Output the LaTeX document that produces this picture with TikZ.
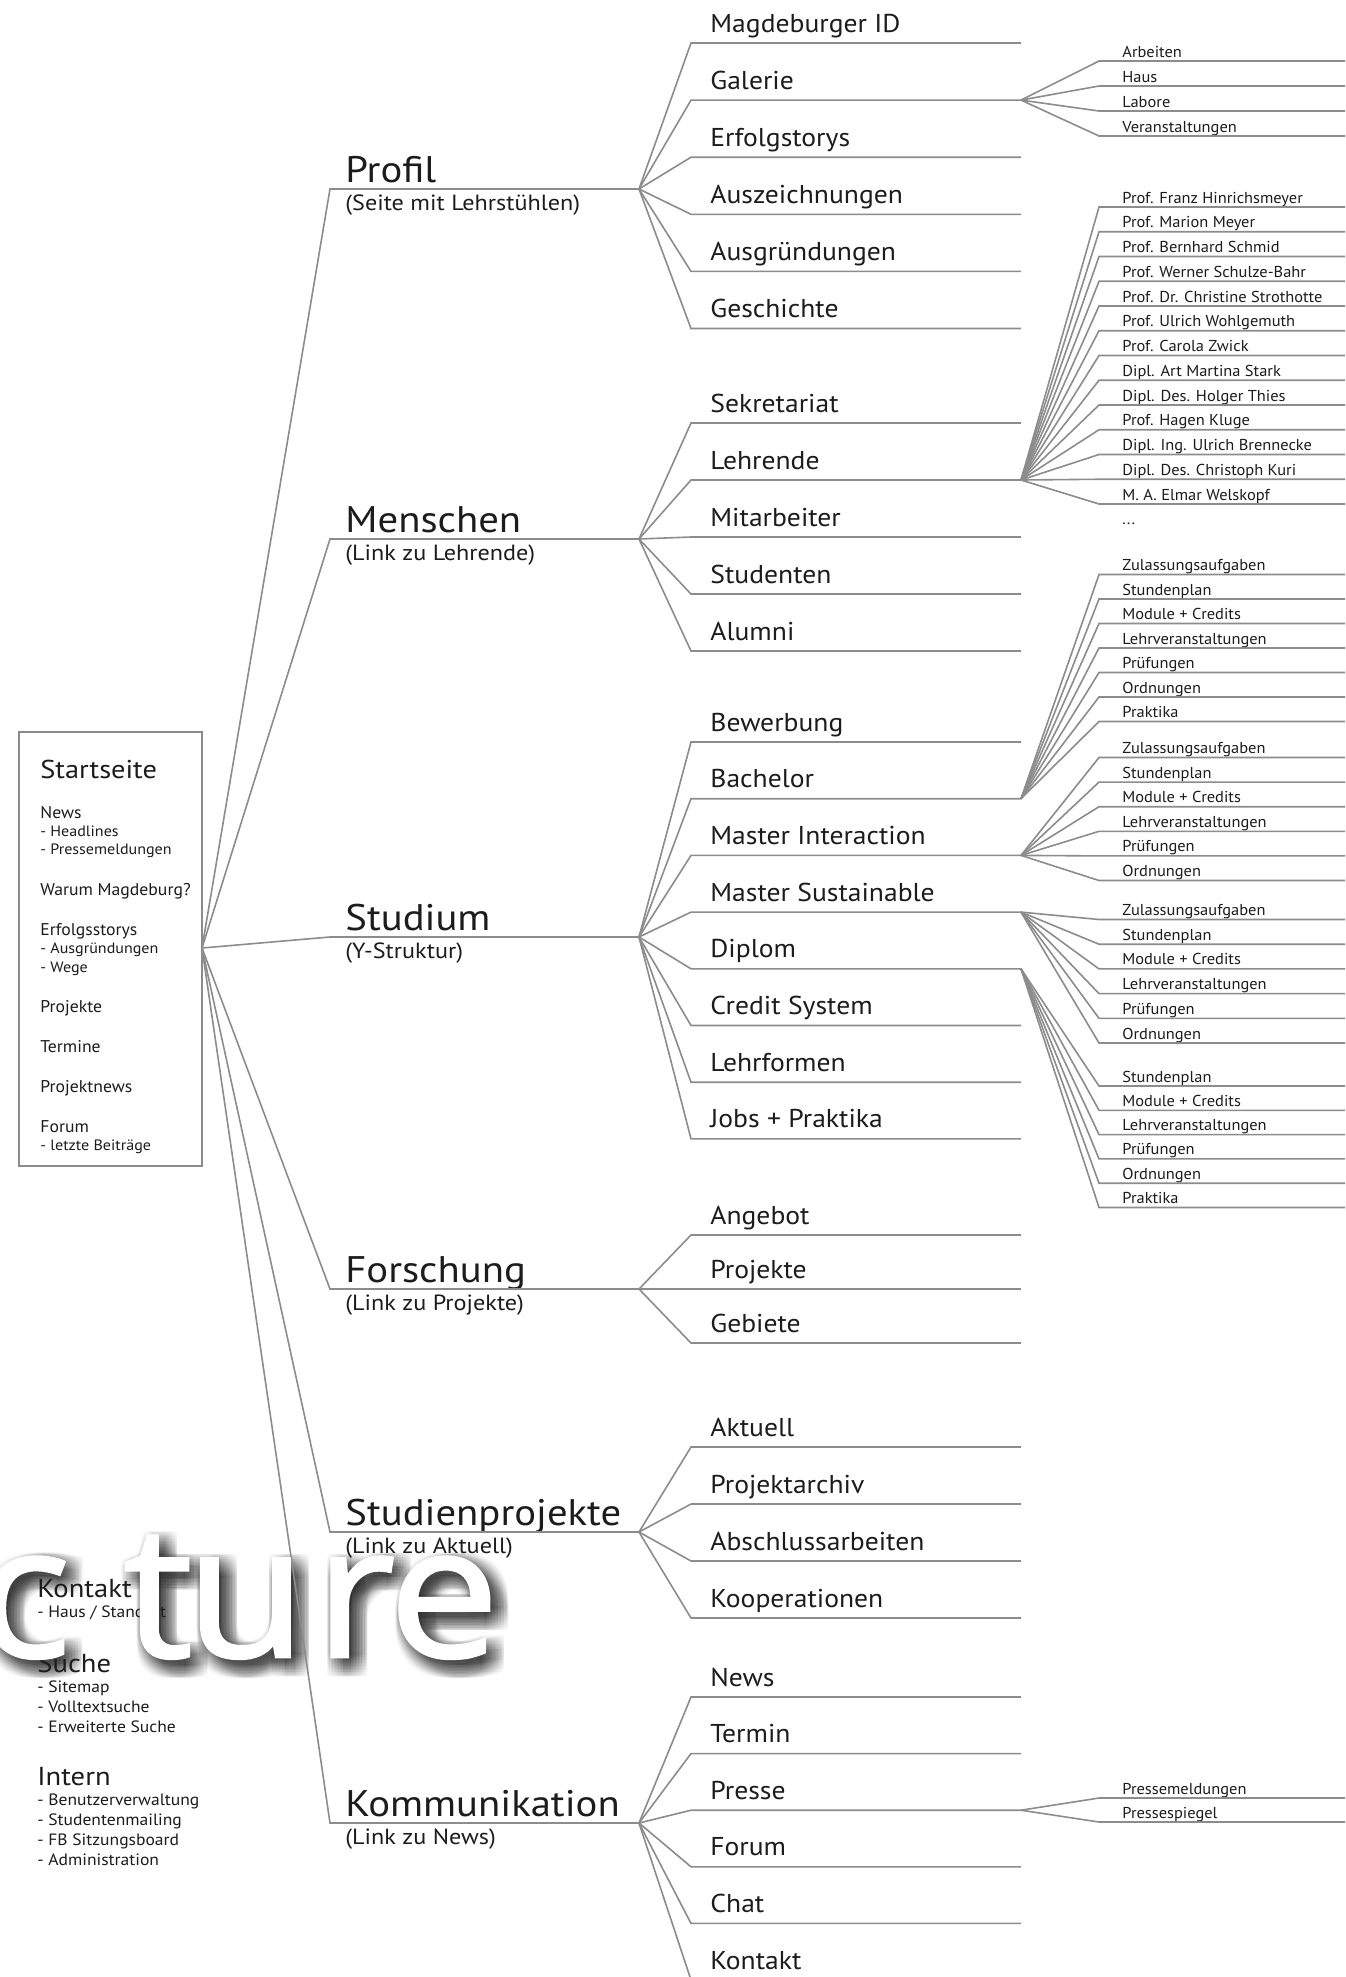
\documentclass[tikz,border=0pt]{standalone}
\usepackage{fontspec}
\setmainfont{PT Sans}
\newfontfamily\wideA[FakeStretch=1.10]{PT Sans}
\newfontfamily\wideB[FakeStretch=1.07]{PT Sans}
\newfontfamily\wideC[FakeStretch=1.04]{PT Sans}
\newfontfamily\markfont[FakeBold=1.5]{Open Sans}
\definecolor{ink}{HTML}{1C1C1C}
\definecolor{rule}{HTML}{8C8C8C}

% second level: items fanning out from (<prefix>-fork)
\newcommand\subfan[4]{%
  \foreach \lbl [count=\i] in {#4} {%
    \pgfmathsetmacro\yy{#2+#3*(\i-1)}%
    \coordinate (#1-\i-a) at (691,\yy);
    \coordinate (#1-\i-b) at (1021,\yy);
    \node[subitem] (#1-\i) at (710,\yy-11) {\lbl};
    \draw[conn] (#1-fork) -- (#1-\i-a) -- (#1-\i-b);
  }}
% third level: leaves fanning out from the end of a second-level rule
\newcommand\leaffan[4]{%
  \foreach \lbl [count=\i] in {#4} {%
    \pgfmathsetmacro\yy{#2+#3*(\i-1)}%
    \coordinate (#1-l\i-a) at (1099,\yy);
    \coordinate (#1-l\i-b) at (1345,\yy);
    \node[leaf] (#1-l\i) at (1122,\yy-4) {\lbl};
    \draw[conn] (#1) -- (#1-l\i-a) -- (#1-l\i-b);
  }}
% first level: title, remark and rule, linked to the start page
\newcommand\topicgroup[4]{%
  \coordinate (#1-a) at (330,#4);
  \coordinate (#1-fork) at (639,#4);
  \node[topic] (#1) at (345,#4-7) {#2};
  \node[remark] (#1-remark) at (345,#4+21) {#3};
  \draw[conn] (root) -- (#1-a) -- (#1-fork);}
% the big lettering, one glyph per node, shifted by (#1,#2)
\newcommand\bigword[3]{%
  \node[watermark,#3] at (24+#1,1657+#2) {c};
  \node[watermark,#3] at (158+#1,1657+#2) {t};
  \node[watermark,#3] at (246+#1,1657+#2) {u};
  \node[watermark,#3] at (355+#1,1657+#2) {r};
  \node[watermark,#3] at (444+#1,1657+#2) {e};}

\begin{document}
\begin{tikzpicture}[x=0.5pt,y=-0.5pt,
  conn/.style={draw=rule,line width=0.8pt},
  txt/.style={anchor=base west,inner sep=0pt,text=ink},
  topic/.style={txt,font=\wideA\fontsize{18.5}{20}\selectfont},
  remark/.style={txt,font=\wideA\fontsize{11}{13}\selectfont},
  subitem/.style={txt,font=\wideB\fontsize{12.9}{15}\selectfont},
  leaf/.style={txt,font=\wideC\fontsize{7.9}{9}\selectfont},
  pagetitle/.style={txt,font=\wideA\fontsize{12.9}{15}\selectfont},
  pagehead/.style={txt,font=\wideC\fontsize{8.5}{10}\selectfont},
  pageline/.style={txt,font=\wideB\fontsize{7.5}{9}\selectfont},
  sidehead/.style={txt,font=\wideA\fontsize{13}{15}\selectfont},
  sideline/.style={txt,font=\wideB\fontsize{8.2}{10}\selectfont},
  watermark/.style={anchor=base,inner sep=0pt,xscale=1.07,
    font=\markfont\fontsize{92}{92}\selectfont},
]
\fill[white] (0,0) rectangle (1345,1977);
\useasboundingbox (0,0) rectangle (1345,1977);

% soft shadow of the big lettering
\foreach \dx in {-3,0,...,18}
  \foreach \dy in {-3,0,...,18}
    {\bigword{\dx}{\dy}{text=black,text opacity=0.02}}

% start page box
\draw[rule,line width=0.8pt] (19,732) rectangle (202,1166);
\coordinate (root) at (202,948);
\node[pagetitle] (start) at (40,778) {Startseite};
\node[pagehead] (s-news) at (40,818) {News};
\node[pageline] (s-news-1) at (40,836) {- Headlines};
\node[pageline] (s-news-2) at (40,854) {- Pressemeldungen};
\node[pagehead] (s-why) at (40,895) {Warum Magdeburg?};
\node[pagehead] (s-story) at (40,935) {Erfolgsstorys};
\node[pageline] (s-story-1) at (40,953) {- Ausgründungen};
\node[pageline] (s-story-2) at (40,972) {- Wege};
\node[pagehead] (s-proj) at (40,1012) {Projekte};
\node[pagehead] (s-dates) at (40,1052) {Termine};
\node[pagehead] (s-pnews) at (40,1092) {Projektnews};
\node[pagehead] (s-forum) at (40,1132) {Forum};
\node[pageline] (s-forum-1) at (40,1150) {- letzte Beiträge};

% global pages
\node[sidehead] (contact) at (37,1597) {Kontakt};
\node[sideline] (contact-1) at (37,1617) {- Haus / Standort};
\node[sidehead] (search) at (37,1672) {Suche};
\node[sideline] (search-1) at (37,1692) {- Sitemap};
\node[sideline] (search-2) at (37,1712) {- Volltextsuche};
\node[sideline] (search-3) at (37,1732) {- Erweiterte Suche};
\node[sidehead] (intern) at (37,1785) {Intern};
\node[sideline] (intern-1) at (37,1805) {- Benutzerverwaltung};
\node[sideline] (intern-2) at (37,1825) {- Studentenmailing};
\node[sideline] (intern-3) at (37,1845) {- FB Sitzungsboard};
\node[sideline] (intern-4) at (37,1865) {- Administration};

% first level
\topicgroup{profil}{Profil}{(Seite mit Lehrstühlen)}{189}
\topicgroup{menschen}{Menschen}{(Link zu Lehrende)}{539}
\topicgroup{studium}{Studium}{(Y-Struktur)}{937}
\topicgroup{forschung}{Forschung}{(Link zu Projekte)}{1289}
\topicgroup{sprojekte}{Studienprojekte}{(Link zu Aktuell)}{1532}
\topicgroup{komm}{Kommunikation}{(Link zu News)}{1823}

% second level
\subfan{profil}{43}{57.1}{Magdeburger ID,Galerie,Erfolgstorys,Auszeichnungen,Ausgründungen,Geschichte}
\subfan{menschen}{423}{57}{Sekretariat,Lehrende,Mitarbeiter,Studenten,Alumni}
\subfan{studium}{742}{56.7}{Bewerbung,Bachelor,Master Interaction,Master Sustainable,Diplom,Credit System,Lehrformen,Jobs + Praktika}
\subfan{forschung}{1235}{54}{Angebot,Projekte,Gebiete}
\subfan{sprojekte}{1447}{57}{Aktuell,Projektarchiv,Abschlussarbeiten,Kooperationen}
\subfan{komm}{1697}{56.6}{News,Termin,Presse,Forum,Chat,Kontakt}

% third level
\leaffan{profil-2-b}{61}{25}{Arbeiten,Haus,Labore,Veranstaltungen}
\leaffan{menschen-2-b}{207}{24.75}{Prof. Franz Hinrichsmeyer,Prof. Marion Meyer,Prof. Bernhard Schmid,Prof. Werner Schulze-Bahr,Prof. Dr. Christine Strothotte,Prof. Ulrich Wohlgemuth,Prof. Carola Zwick,Dipl. Art Martina Stark,Dipl. Des. Holger Thies,Prof. Hagen Kluge,Dipl. Ing. Ulrich Brennecke,Dipl. Des. Christoph Kuri,M. A. Elmar Welskopf}
\node[leaf] (lehrende-more) at (1122,524) {...};
\leaffan{studium-2-b}{574.5}{24.5}{Zulassungsaufgaben,Stundenplan,Module + Credits,Lehrveranstaltungen,Prüfungen,Ordnungen,Praktika}
\leaffan{studium-3-b}{757.5}{24.6}{Zulassungsaufgaben,Stundenplan,Module + Credits,Lehrveranstaltungen,Prüfungen,Ordnungen}
\leaffan{studium-4-b}{919.5}{24.7}{Zulassungsaufgaben,Stundenplan,Module + Credits,Lehrveranstaltungen,Prüfungen,Ordnungen}
\leaffan{studium-5-b}{1086}{24.3}{Stundenplan,Module + Credits,Lehrveranstaltungen,Prüfungen,Ordnungen,Praktika}
\leaffan{komm-3-b}{1798}{24}{Pressemeldungen,Pressespiegel}

% big lettering on top
\bigword{0}{0}{text=white}
\end{tikzpicture}
\end{document}
